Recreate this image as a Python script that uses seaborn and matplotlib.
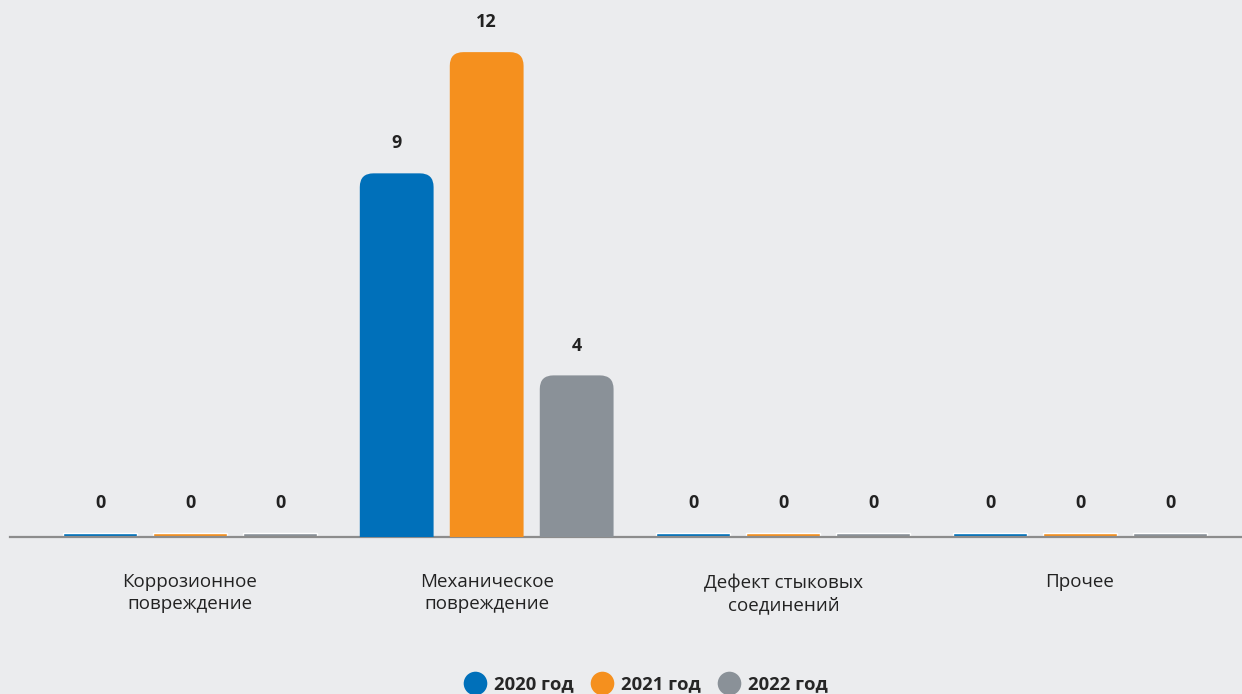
import numpy as np
import pandas as pd
import matplotlib
matplotlib.use('Agg')
import matplotlib.pyplot as plt
from matplotlib.patches import FancyBboxPatch
from matplotlib.lines import Line2D
import seaborn as sns

sns.set_style('white')
plt.rcParams['font.family'] = ['Open Sans', 'DejaVu Sans']

# data
categories = ['Коррозионное\nповреждение', 'Механическое\nповреждение',
              'Дефект стыковых\nсоединений', 'Прочее']
years = ['2020 год', '2021 год', '2022 год']
v2020 = [0, 9, 0, 0]
v2021 = [0, 12, 0, 0]
v2022 = [0, 4, 0, 0]
colors = ['#0070BA', '#F5901E', '#8A9198']

df = pd.DataFrame({
    'cat': categories * 3,
    'year': np.repeat(years, len(categories)),
    'value': v2020 + v2021 + v2022,
})

bg = '#EBECEE'
fig = plt.figure(figsize=(12.42, 6.94), dpi=100, facecolor=bg)
ax = fig.add_axes([0.008, 0.2262, 0.992, 0.7738], facecolor=bg)

sns.barplot(data=df, x='cat', y='value', hue='year', palette=colors,
            width=0.91, gap=0.18, legend=False, ax=ax, errorbar=None,
            saturation=1)

x0, x1 = -0.607, 3.546
ax.set_xlim(x0, x1)
ax.set_ylim(0, 13.29)

# per-pixel scale for rounded corners
aspect = (13.29 / 537) / ((x1 - x0) / 1232)

for p in list(ax.patches):
    x, w, h = p.get_x(), p.get_width(), p.get_height()
    c = p.get_facecolor()
    if h == 0:
        p.set_height(0.1)
        top = 0.1
    else:
        fb = FancyBboxPatch((x, -0.7), w, h + 0.7,
                            boxstyle='round,pad=0,rounding_size=0.046',
                            mutation_aspect=aspect, facecolor=c,
                            edgecolor='none', clip_on=True, zorder=2)
        ax.add_patch(fb)
        p.remove()
        top = h
    ax.annotate(f'{int(h)}', (x + w / 2, top), xytext=(0, 21.5),
                textcoords='offset points', ha='center', va='center',
                fontsize=13, fontweight='bold', color='#222222')

for s in ['top', 'left', 'right']:
    ax.spines[s].set_visible(False)
ax.spines['bottom'].set_color('#8C8C8C')
ax.spines['bottom'].set_linewidth(1.6)
ax.spines['bottom'].set_zorder(1)
ax.set_yticks([])
ax.set_xlabel('')
ax.set_ylabel('')
ax.tick_params(axis='x', length=0, pad=26, labelsize=13.5, labelcolor='#222222')
for t in ax.get_xticklabels():
    t.set_linespacing(1.3)

handles = [Line2D([], [], marker='o', linestyle='', markersize=17,
                  markerfacecolor=c, markeredgecolor='none') for c in colors]
fig.legend(handles, years, loc='center', bbox_to_anchor=(0.517, 0.014),
           ncol=3, frameon=False, handletextpad=0.05,
           columnspacing=0.5, prop={'weight': 'bold', 'size': 13.3})

fig.savefig('out.png', dpi=100, facecolor=bg)
